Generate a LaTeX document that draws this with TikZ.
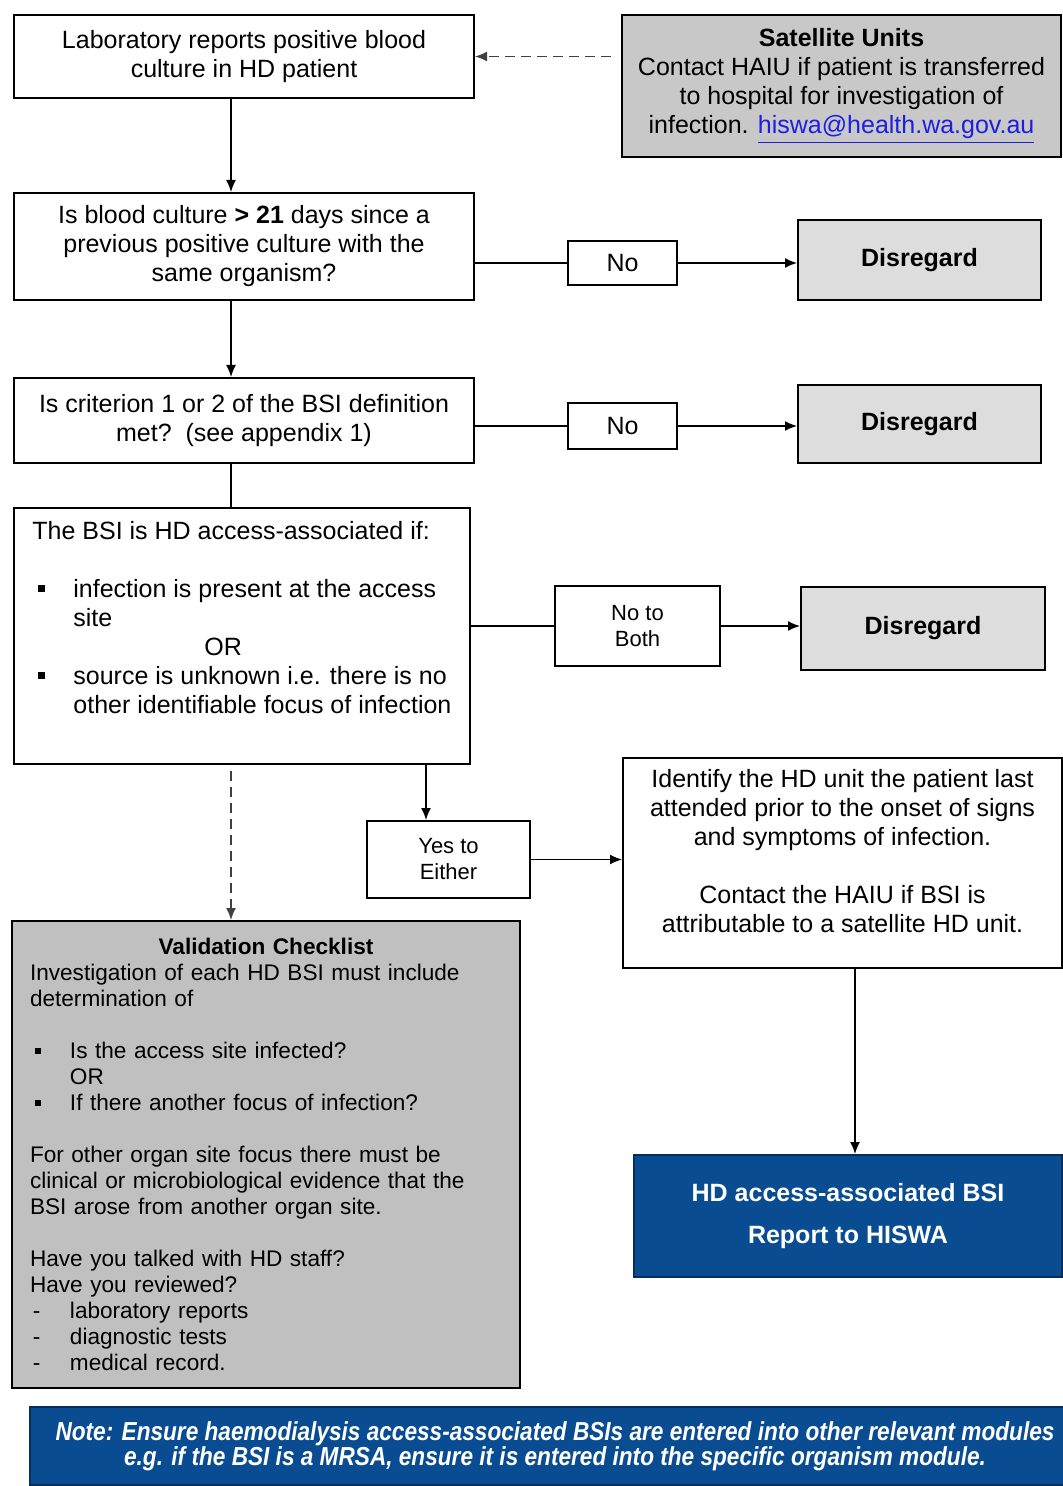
\documentclass[tikz,border=0pt]{standalone}
\usepackage{fontspec}
\setmainfont{Liberation Sans}
\newfontfamily\narrowfont[FakeStretch=0.87]{Liberation Sans}
\usetikzlibrary{arrows.meta}

\definecolor{boxgray}{RGB}{200,200,200}
\definecolor{lightbox}{RGB}{221,221,221}
\definecolor{checkgray}{RGB}{192,192,192}
\definecolor{hiswablue}{RGB}{10,76,146}
\definecolor{linkblue}{RGB}{30,30,225}

\newcommand{\bsibul}{\makebox[20.5pt][l]{\hspace{3pt}\rule[2.5pt]{3.5pt}{3.5pt}}}
\newcommand{\chkbul}{\makebox[20pt][l]{\hspace{2.5pt}\rule[2.5pt]{3pt}{3pt}}}
\newcommand{\chkdash}{\makebox[20pt][l]{\hspace{1.5pt}-}}

\begin{document}
\begin{tikzpicture}[x=0.5pt, y=-0.5pt,
    every node/.style={font=\fontsize{12.5}{14.5}\selectfont},
    box/.style={draw, line width=1pt, inner sep=0pt, align=center},
    answer/.style={box, minimum width=54.5pt},
    disregard/.style={box, fill=lightbox, minimum width=121.5pt, font=\fontsize{12.5}{14.5}\selectfont\bfseries},
    bluebox/.style={box, draw=hiswablue!60!black, fill=hiswablue, text=white},
    flow/.style={line width=0.75pt, -{Latex[length=6pt, width=5pt]}},
    plain/.style={line width=0.75pt},
    dashflow/.style={line width=0.75pt, draw=black!75, dash pattern=on 5pt off 3pt, -{Latex[length=6pt, width=5pt]}}]

    \useasboundingbox (0,0) rectangle (1063,1486);

    % Draw the column positions of the connectors
    \coordinate (spine) at (231, 0);
    \coordinate (yesx) at (426, 0);
    \coordinate (hdx) at (855, 0);

    % Draw the boxes of the left column
    \node[box, minimum width=230pt, minimum height=41.5pt] (lab) at (244, 56.5)
        {Laboratory reports positive blood\\culture in HD patient};
    \node[box, minimum width=230pt, minimum height=53.5pt] (q1) at (244, 246.5)
        {Is blood culture \textbf{> 21} days since a\\previous positive culture with the\\same organism?};
    \node[box, minimum width=230pt, minimum height=42.5pt] (q2) at (244, 420.5)
        {Is criterion 1 or 2 of the BSI definition\\met?~~(see appendix 1)};
    \node[box, minimum width=228pt, minimum height=128pt] (bsi) at (242, 636) {};
    \node[anchor=north west, align=left, inner sep=0pt] (bsitext) at (32, 521)
        {The BSI is HD access-associated if:\\[14.25pt]
         \bsibul infection is present at the access\\
         \hspace*{20.5pt}site\\
         \hspace*{86pt}OR\\
         \bsibul source is unknown i.e. there is no\\
         \hspace*{20.5pt}other identifiable focus of infection};

    % Draw the satellite note
    \node[box, fill=boxgray, minimum width=219.5pt, minimum height=71pt] (sat) at (841.5, 86)
        {\textbf{Satellite Units}\\Contact HAIU if patient is transferred\\to hospital for investigation of\\
         infection. \textcolor{linkblue}{\underline{hiswa@health.wa.gov.au}}};

    % Draw the answers and the disregard boxes
    \node[answer, minimum height=22pt] (no1) at (622.5, 263) {No};
    \node[disregard, minimum height=40pt] (dis1) at (919.5, 260) {Disregard};
    \node[answer, minimum height=23pt] (no2) at (622.5, 426) {No};
    \node[disregard, minimum height=39pt] (dis2) at (919.5, 424) {Disregard};
    \node[box, minimum width=82.5pt, minimum height=40pt, font=\fontsize{11}{13}\selectfont] (noboth) at (637.5, 626)
        {No to\\Both};
    \node[disregard, minimum width=122pt, minimum height=41.5pt] (dis3) at (923, 628.5) {Disregard};
    \node[box, minimum width=81.5pt, minimum height=38.5pt, font=\fontsize{11}{13}\selectfont] (yes) at (448.5, 859.5)
        {Yes to\\Either};

    % Draw the boxes of the lower part
    \node[box, minimum width=219.5pt, minimum height=105pt] (ident) at (842.5, 863)
        {Identify the HD unit the patient last\\attended prior to the onset of signs\\and symptoms of infection.\\[14.25pt]
         Contact the HAIU if BSI is\\attributable to a satellite HD unit.\\[-2.5pt]\mbox{}};
    \node[box, fill=checkgray, align=left, text width=236pt, inner xsep=9pt, minimum height=233.5pt,
          font=\fontsize{11.3}{13}\selectfont] (valid) at (266, 1154.5)
        {\makebox[236pt][c]{\bfseries Validation Checklist}\\
         Investigation of each HD BSI must include\\
         determination of\\[13pt]
         \chkbul Is the access site infected?\\
         \hspace*{20pt}OR\\
         \chkbul If there another focus of infection?\\[13pt]
         For other organ site focus there must be\\
         clinical or microbiological evidence that the\\
         BSI arose from another organ site.\\[13pt]
         Have you talked with HD staff?\\
         Have you reviewed?\\
         \chkdash laboratory reports\\
         \chkdash diagnostic tests\\
         \chkdash medical record.};
    \node[bluebox, minimum width=214pt, minimum height=61pt, font=\fontsize{12.5}{14.5}\selectfont\bfseries] (hd) at (848, 1216)
        {HD access-associated BSI\\[6.5pt]Report to HISWA};
    \node[bluebox, minimum width=525pt, minimum height=39pt,
          font=\narrowfont\fontsize{13}{12.5}\selectfont\bfseries\itshape] (note) at (555, 1446)
        {Note: Ensure haemodialysis access-associated BSIs are entered into other relevant modules\\
         e.g. if the BSI is a MRSA, ensure it is entered into the specific organism module.};

    % Draw the connectors down the left column
    \draw[dashflow, shorten <=5pt] (sat.west |- lab.east) -- (lab.east);
    \draw[flow] (lab.south -| spine) -- (q1.north -| spine);
    \draw[flow] (q1.south -| spine) -- (q2.north -| spine);
    \draw[plain] (q2.south -| spine) -- (bsi.north -| spine);
    \draw[dashflow, shorten <=3pt] (bsi.south -| spine) -- (valid.north -| spine);

    % Draw the connectors to the answers
    \draw[plain] (q1.east |- no1.west) -- (no1.west);
    \draw[flow] (no1.east) -- (dis1.west |- no1.east);
    \draw[plain] (q2.east |- no2.west) -- (no2.west);
    \draw[flow] (no2.east) -- (dis2.west |- no2.east);
    \draw[plain] (bsi.east |- noboth.west) -- (noboth.west);
    \draw[flow] (noboth.east) -- (dis3.west |- noboth.east);
    \draw[flow] (bsi.south -| yesx) -- (yes.north -| yesx);
    \draw[flow] (yes.east) -- (ident.west |- yes.east);
    \draw[flow] (ident.south -| hdx) -- (hd.north -| hdx);

\end{tikzpicture}
\end{document}
